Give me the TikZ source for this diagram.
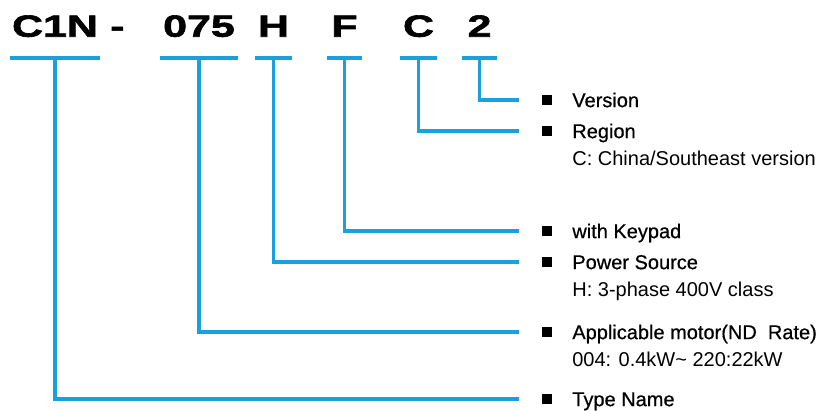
\documentclass[tikz,border=0pt]{standalone}
\usepackage{fontspec}
\setmainfont{Liberation Sans}
\newfontfamily\codefont[FakeStretch=1.4, FakeBold=2]{Liberation Sans Bold}
\newfontfamily\headfont[FakeBold=0.6]{Liberation Sans}
\usetikzlibrary{positioning}
\definecolor{codeBlue}{RGB}{27, 160, 222}

\begin{document}
\begin{tikzpicture}[
  x=0.75pt, y=-0.75pt,
  node distance=15pt,
  codepart/.style={font=\codefont\fontsize{23pt}{27pt}\selectfont, inner sep=0pt,
                   text depth=15.75pt, minimum width=#1, anchor=south},
  bullet/.style={fill=black, inner sep=0pt, minimum size=7.2pt},
  desc/.style={font=\headfont\fontsize{15pt}{18pt}\selectfont, inner sep=0pt,
               text height=10.7pt, text depth=0pt},
  subdesc/.style={desc, font=\normalfont\fontsize{15pt}{18pt}\selectfont, anchor=base west},
  bar/.style={codeBlue, line width=2.3pt},
  link/.style={codeBlue, line width=2.3pt, shorten >=17pt}
]
\useasboundingbox (0,0) rectangle (837,410);

% model code
\node[codepart=67.5pt] (c1n) at (55,58) {C1N};
\node[codepart=10pt] (hyph) at (117.5,58) {-};
\node[codepart=58.5pt] (rate) at (199,58) {075};
\node[codepart=27.75pt] (src) at (273.5,58) {H};
\node[codepart=26.25pt] (pad) at (344.5,58) {F};
\node[codepart=27.75pt] (reg) at (418.5,58) {C};
\node[codepart=26.25pt] (ver) at (479.5,58) {2};
\foreach \p in {c1n,rate,src,pad,reg,ver}
  \draw[bar] (\p.south west) -- (\p.south east);

% descriptions
\node[bullet] (bVer) at (547,100) {};
\node[desc, right=of bVer] (dVer) {Version};
\node[bullet] (bReg) at (547,131) {};
\node[desc, right=of bReg] (dReg) {Region};
\node[subdesc] (sReg) at ([yshift=-20.5pt]dReg.base west) {C: China/Southeast version};
\node[bullet] (bPad) at (547,231) {};
\node[desc, right=of bPad] (dPad) {with Keypad};
\node[bullet] (bSrc) at (547,262) {};
\node[desc, right=of bSrc] (dSrc) {Power Source};
\node[subdesc] (sSrc) at ([yshift=-20.5pt]dSrc.base west) {H: 3-phase 400V class};
\node[bullet] (bRate) at (547,332) {};
\node[desc, right=of bRate] (dRate) {Applicable motor(ND\ \ Rate)};
\node[subdesc] (sRate) at ([yshift=-20.5pt]dRate.base west) {004: 0.4kW\textasciitilde{} 220:22kW};
\node[bullet] (bType) at (547,399) {};
\node[desc, right=of bType] (dType) {Type Name};

% leaders
\draw[link] (ver.south) |- (bVer);
\draw[link] (reg.south) |- (bReg);
\draw[link] (pad.south) |- (bPad);
\draw[link] (src.south) |- (bSrc);
\draw[link] (rate.south) |- (bRate);
\draw[link] (c1n.south) |- (bType);
\end{tikzpicture}
\end{document}
